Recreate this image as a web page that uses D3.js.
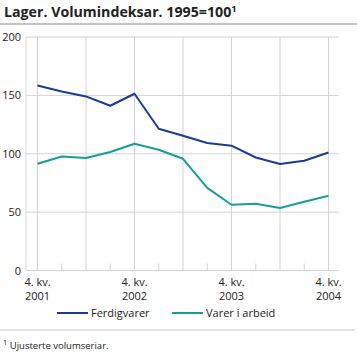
<!DOCTYPE html>
<html>
<head>
<meta charset="utf-8">
<script src="https://cdn.jsdelivr.net/npm/d3@7"></script>
<style>
  body { margin: 0; background: #fff; }
  text { font-family: "Open Sans", "DejaVu Sans", sans-serif; fill: #222; }
</style>
</head>
<body>
<div id="chart"></div>
<script>
// Data ---------------------------------------------------------------------------------------------------------------
const quarters = ["2001K4", "2002K1", "2002K2", "2002K3", "2002K4", "2003K1", "2003K2", "2003K3", "2003K4",
  "2004K1", "2004K2", "2004K3", "2004K4"];
const ferdigvarer = [158.5, 153.4, 149.1, 141.1, 151.4, 121.4, 115.4, 109.2, 106.9, 96.8, 91.2, 94, 101.1];
const varerIArbeid = [91.4, 97.7, 96.3, 101.5, 108.6, 103.4, 95.7, 70.8, 56.3, 57.2, 53.5, 58.9, 64];
const yTicks = [0, 50, 100, 150, 200];
const labelQuarters = ["2001K4", "2002K4", "2003K4", "2004K4"];
const labelYears = ["2001", "2002", "2003", "2004"];
const seriesNames = ["Ferdigvarer", "Varer i arbeid"];

// Canvas -------------------------------------------------------------------------------------------------------------
const canvasWidth = 357;
const canvasHeight = 352;
const leftPadding = 26;
const rightPadding = 18;
const topPadding = 37;
const plotBottom = 270.5;

const colors = ["#1f3a93", "#1a9c97"];
const gridColor = "#d4d4d4";

const svg = d3.select("#chart")
  .append("svg")
  .attr("width", canvasWidth)
  .attr("height", canvasHeight);

// Title
const title = svg.append("text")
  .attr("x", 4)
  .attr("y", 17)
  .style("font-size", "14.2px")
  .style("font-weight", "bold");
title.append("tspan").text("Lager. Volumindeksar. 1995=100");
title.append("tspan").text("1").attr("dy", -5).style("font-size", "9.5px");

svg.append("line")
  .attr("x1", 0).attr("x2", canvasWidth)
  .attr("y1", 24).attr("y2", 24)
  .style("stroke", "#c4c4c4")
  .style("stroke-width", 2);

// Scales
const xScale = d3.scalePoint()
  .domain(quarters)
  .range([37.5, 328.5]);
const yScale = d3.scaleLinear()
  .domain([0, 200])
  .range([plotBottom, topPadding]);

const plotLeft = leftPadding;
const plotRight = canvasWidth - rightPadding;

// Horizontal gridlines
svg.append("g")
  .selectAll("line")
  .data(yTicks.filter(d => d > 0))
  .join("line")
  .attr("x1", plotLeft).attr("x2", plotRight)
  .attr("y1", d => yScale(d)).attr("y2", d => yScale(d))
  .style("stroke", gridColor)
  .style("stroke-width", 1);

// Vertical gridlines (every second quarter) and minor ticks
svg.append("g")
  .selectAll("line")
  .data(quarters)
  .join("line")
  .attr("x1", d => xScale(d)).attr("x2", d => xScale(d))
  .attr("y1", (d, i) => i % 2 == 0 ? topPadding : plotBottom - 7)
  .attr("y2", plotBottom)
  .style("stroke", gridColor)
  .style("stroke-width", 1);

// Axis lines
svg.append("line")
  .attr("x1", plotLeft).attr("x2", plotLeft)
  .attr("y1", topPadding).attr("y2", plotBottom)
  .style("stroke", gridColor);
svg.append("line")
  .attr("x1", plotLeft).attr("x2", plotRight)
  .attr("y1", plotBottom).attr("y2", plotBottom)
  .style("stroke", gridColor);

// Y labels
svg.append("g")
  .selectAll("text")
  .data(yTicks)
  .join("text")
  .text(d => d)
  .attr("x", 21)
  .attr("y", d => yScale(d) + 4)
  .style("text-anchor", "end")
  .style("font-size", "11px");

// X labels
const xLabels = svg.append("g")
  .selectAll("text")
  .data(labelQuarters)
  .join("text")
  .attr("x", d => xScale(d))
  .style("text-anchor", "middle")
  .style("font-size", "11px");
xLabels.append("tspan")
  .text("4. kv.")
  .attr("x", d => xScale(d))
  .attr("y", 286);
xLabels.append("tspan")
  .text((d, i) => labelYears[i])
  .attr("x", d => xScale(d))
  .attr("y", 300);

// Lines
const line = d3.line()
  .x((d, i) => xScale(quarters[i]))
  .y(d => yScale(d));

svg.append("g")
  .selectAll("path")
  .data([ferdigvarer, varerIArbeid])
  .join("path")
  .attr("d", d => line(d))
  .style("fill", "none")
  .style("stroke", (d, i) => colors[i])
  .style("stroke-width", 2)
  .style("stroke-linejoin", "round");

// Legend
const legendX = [57, 172];
const legend = svg.append("g")
  .selectAll("g")
  .data(seriesNames)
  .join("g")
  .attr("transform", (d, i) => "translate(" + legendX[i] + ", 313)");
legend.append("line")
  .attr("x1", 0).attr("x2", 31)
  .style("stroke", (d, i) => colors[i])
  .style("stroke-width", 2);
legend.append("text")
  .text(d => d)
  .attr("x", 34)
  .attr("y", 4)
  .style("font-size", "11px");

// Footnote
svg.append("line")
  .attr("x1", 0).attr("x2", 355)
  .attr("y1", 330).attr("y2", 330)
  .style("stroke", "#c4c4c4")
  .style("stroke-width", 1);
const note = svg.append("text")
  .attr("x", 3)
  .attr("y", 349)
  .style("font-size", "9.5px");
note.append("tspan").text("1").attr("dy", -4).style("font-size", "7.5px");
note.append("tspan").text(" Ujusterte volumseriar.").attr("dy", 4);
</script>
</body>
</html>
